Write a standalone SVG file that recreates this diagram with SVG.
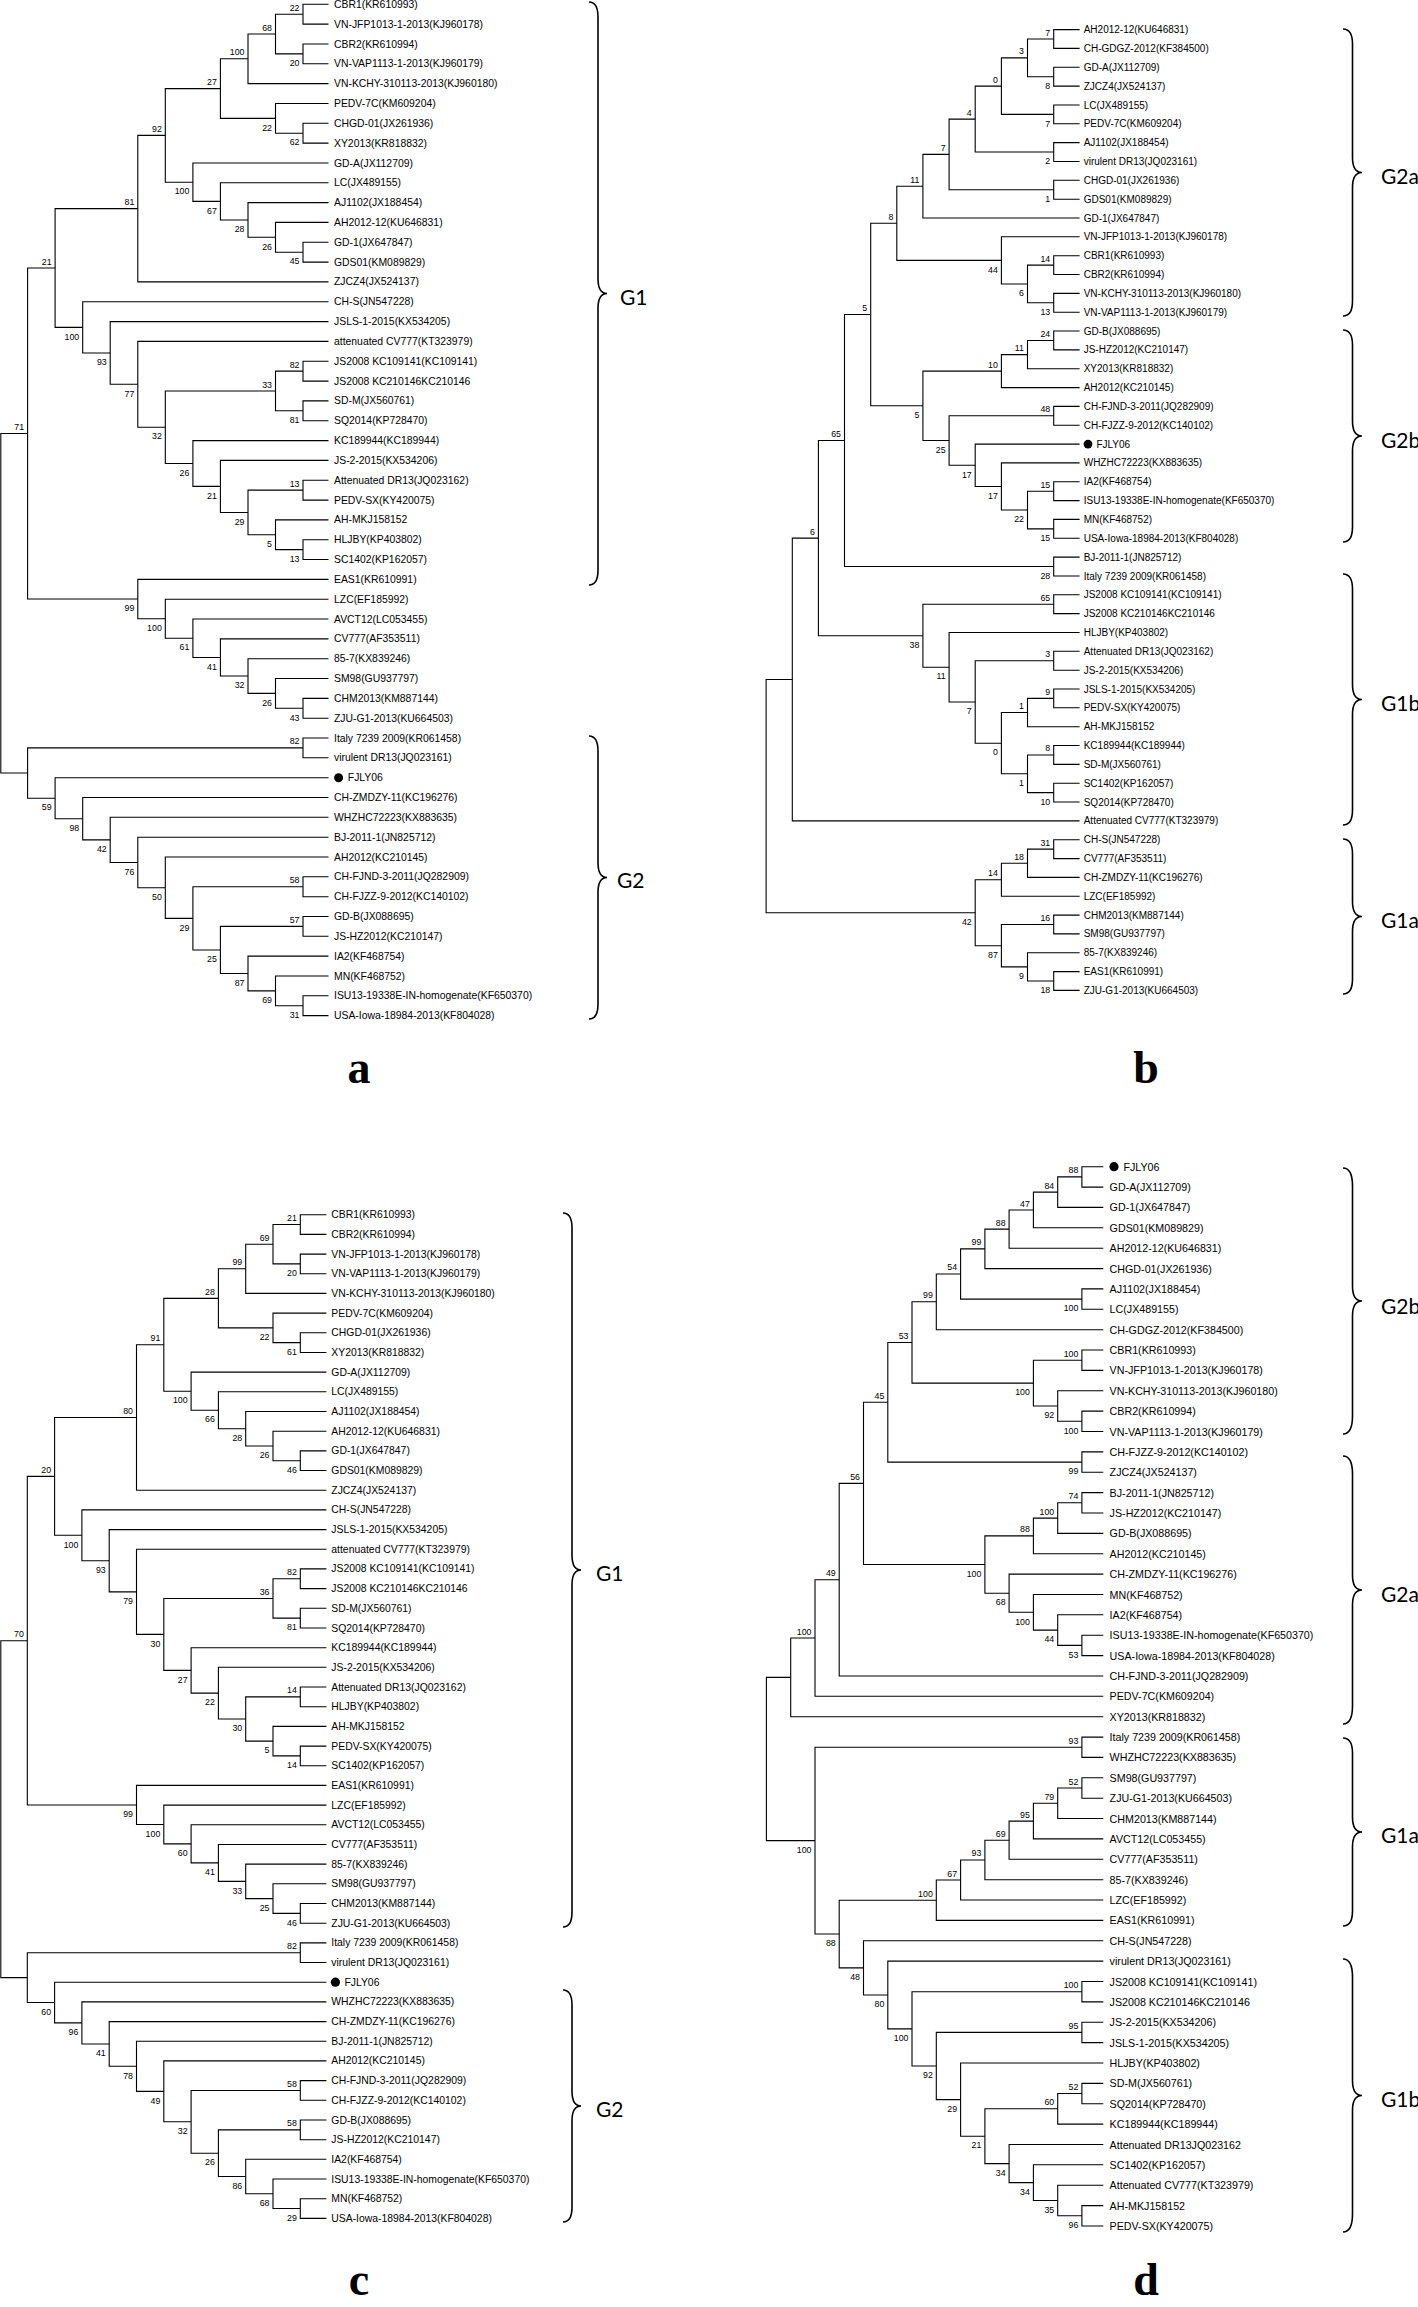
<svg xmlns="http://www.w3.org/2000/svg" width="1418" height="2307" viewBox="0 0 1418 2307">
<style>
text{font-family:"Liberation Sans",Arial,sans-serif;fill:#000}
.tip text{dominant-baseline:central}
.ta text{font-size:10.4px}
.tb text{font-size:10px}
.td text{font-size:10.7px}
.bs text{font-size:8.8px;text-anchor:end}
.e path{fill:none;stroke:#000;stroke-width:1.1}
.br path{fill:none;stroke:#000;stroke-width:1.6}
.gl text{font-family:Lato,"Liberation Sans",sans-serif;font-size:21px;dominant-baseline:central}
.lt text{font-family:"Liberation Serif","Times New Roman",serif;font-weight:bold;font-size:46px;text-anchor:middle}
</style>
<rect width="1418" height="2307" fill="#fff"/>

<!-- ================= PANEL A ================= -->
<g id="a-connectors" class="e">
<path d="M328.5 4.3H303V24.1H328.5"/>
<path d="M328.5 44H303V63.8H328.5"/>
<path d="M303 14.2H275.5V53.9H303"/>
<path d="M275.5 34.05H248V83.6H328.5"/>
<path d="M328.5 123.3H303V143.1H328.5"/>
<path d="M328.5 103.5H275.5V133.2H303"/>
<path d="M248 58.8H220.4V118.35H275.5"/>
<path d="M328.5 242.3H303V262.1H328.5"/>
<path d="M328.5 222.4H275.5V252.2H303"/>
<path d="M328.5 202.6H248V237.3H275.5"/>
<path d="M328.5 182.8H220.4V219.95H248"/>
<path d="M328.5 163H192.9V201.4H220.4"/>
<path d="M220.4 88.6H165.3V182.2H192.9"/>
<path d="M165.3 135.4H137.8V281.9H328.5"/>
<path d="M328.5 361.2H303V381.1H328.5"/>
<path d="M328.5 400.9H303V420.7H328.5"/>
<path d="M303 371.15H275.5V410.8H303"/>
<path d="M328.5 539.7H303V559.5H328.5"/>
<path d="M328.5 519.9H275.5V549.6H303"/>
<path d="M328.5 480.2H303V500.1H328.5"/>
<path d="M303 490.15H248V534.75H275.5"/>
<path d="M328.5 460.4H220.4V512.45H248"/>
<path d="M328.5 440.6H192.9V486.4H220.4"/>
<path d="M275.5 390.98H165.3V463.5H192.9"/>
<path d="M328.5 341.4H137.8V427.2H165.3"/>
<path d="M328.5 321.6H110.2V384.3H137.8"/>
<path d="M328.5 301.8H82.7V352.95H110.2"/>
<path d="M137.8 208.65H55.1V327.4H82.7"/>
<path d="M328.5 698.4H303V718.2H328.5"/>
<path d="M328.5 678.5H275.5V708.3H303"/>
<path d="M328.5 658.7H248V693.4H275.5"/>
<path d="M328.5 638.9H220.4V676.05H248"/>
<path d="M328.5 619H192.9V657.5H220.4"/>
<path d="M328.5 599.2H165.3V638.25H192.9"/>
<path d="M328.5 579.4H137.8V618.7H165.3"/>
<path d="M55.1 268H27.6V599.05H137.8"/>
<path d="M328.5 738H303V757.8H328.5"/>
<path d="M328.5 995.8H303V1015.6H328.5"/>
<path d="M328.5 976H275.5V1005.7H303"/>
<path d="M328.5 956.1H248V990.85H275.5"/>
<path d="M328.5 916.5H303V936.3H328.5"/>
<path d="M303 926.4H220.4V973.5H248"/>
<path d="M328.5 876.8H303V896.7H328.5"/>
<path d="M303 886.75H192.9V949.95H220.4"/>
<path d="M328.5 857H165.3V918.35H192.9"/>
<path d="M328.5 837.2H137.8V887.7H165.3"/>
<path d="M328.5 817.3H110.2V862.45H137.8"/>
<path d="M328.5 797.5H82.7V839.9H110.2"/>
<path d="M328.5 777.7H55.1V818.7H82.7"/>
<path d="M303 747.9H27.6V798.2H55.1"/>
<path d="M27.6 433.5H0.8V773.05H27.6"/>
</g>
<g id="a-bootstrap" class="bs">
<text x="299.5" y="10.7">22</text><text x="299.5" y="66.1">20</text><text x="272" y="30.55">68</text><text x="244.5" y="55.3">100</text>
<text x="299.5" y="145.4">62</text><text x="272" y="130.55">22</text><text x="216.9" y="85.1">27</text><text x="299.5" y="264.4">45</text>
<text x="272" y="249.5">26</text><text x="244.5" y="232.15">28</text><text x="216.9" y="213.6">67</text><text x="189.4" y="194.4">100</text>
<text x="161.8" y="131.9">92</text><text x="134.3" y="205.15">81</text><text x="299.5" y="367.65">82</text><text x="299.5" y="423">81</text>
<text x="272" y="387.5">33</text><text x="299.5" y="561.8">13</text><text x="272" y="546.95">5</text><text x="299.5" y="486.65">13</text>
<text x="244.5" y="524.65">29</text><text x="216.9" y="498.6">21</text><text x="189.4" y="475.7">26</text><text x="161.8" y="439.4">32</text>
<text x="134.3" y="396.5">77</text><text x="106.7" y="365.15">93</text><text x="79.2" y="339.6">100</text><text x="51.6" y="264.5">21</text>
<text x="299.5" y="720.5">43</text><text x="272" y="705.6">26</text><text x="244.5" y="688.25">32</text><text x="216.9" y="669.7">41</text>
<text x="189.4" y="650.45">61</text><text x="161.8" y="630.9">100</text><text x="134.3" y="611.25">99</text><text x="24.1" y="430">71</text>
<text x="299.5" y="744.4">82</text><text x="299.5" y="1017.9">31</text><text x="272" y="1003.05">69</text><text x="244.5" y="985.7">87</text>
<text x="299.5" y="922.9">57</text><text x="216.9" y="962.15">25</text><text x="299.5" y="883.25">58</text><text x="189.4" y="930.55">29</text>
<text x="161.8" y="899.9">50</text><text x="134.3" y="874.65">76</text><text x="106.7" y="852.1">42</text><text x="79.2" y="830.9">98</text>
<text x="51.6" y="810.4">59</text>
</g>
<g class="tip ta" transform="translate(334 0)">
<g id="a00"><text y="4.3">CBR1(KR610993)</text></g>
<g id="a01"><text y="24.1">VN-JFP1013-1-2013(KJ960178)</text></g>
<g id="a02"><text y="44">CBR2(KR610994)</text></g>
<g id="a03"><text y="63.8">VN-VAP1113-1-2013(KJ960179)</text></g>
<g id="a04"><text y="83.6">VN-KCHY-310113-2013(KJ960180)</text></g>
<g id="a05"><text y="103.5">PEDV-7C(KM609204)</text></g>
<g id="a06"><text y="123.3">CHGD-01(JX261936)</text></g>
<g id="a07"><text y="143.1">XY2013(KR818832)</text></g>
<g id="a08"><text y="163">GD-A(JX112709)</text></g>
<g id="a09"><text y="182.8">LC(JX489155)</text></g>
<g id="a10"><text y="202.6">AJ1102(JX188454)</text></g>
<g id="a11"><text y="222.4">AH2012-12(KU646831)</text></g>
<g id="a12"><text y="242.3">GD-1(JX647847)</text></g>
<g id="a13"><text y="262.1">GDS01(KM089829)</text></g>
<g id="a14"><text y="281.9">ZJCZ4(JX524137)</text></g>
<g id="a15"><text y="301.8">CH-S(JN547228)</text></g>
<g id="a16"><text y="321.6">JSLS-1-2015(KX534205)</text></g>
<g id="a17"><text y="341.4">attenuated CV777(KT323979)</text></g>
<g id="a18"><text y="361.2">JS2008 KC109141(KC109141)</text></g>
<g id="a19"><text y="381.1">JS2008 KC210146KC210146</text></g>
<g id="a20"><text y="400.9">SD-M(JX560761)</text></g>
<g id="a21"><text y="420.7">SQ2014(KP728470)</text></g>
<g id="a22"><text y="440.6">KC189944(KC189944)</text></g>
<g id="a23"><text y="460.4">JS-2-2015(KX534206)</text></g>
<g id="a24"><text y="480.2">Attenuated DR13(JQ023162)</text></g>
<g id="a25"><text y="500.1">PEDV-SX(KY420075)</text></g>
<g id="a26"><text y="519.9">AH-MKJ158152</text></g>
<g id="a27"><text y="539.7">HLJBY(KP403802)</text></g>
<g id="a28"><text y="559.5">SC1402(KP162057)</text></g>
<g id="a29"><text y="579.4">EAS1(KR610991)</text></g>
<g id="a30"><text y="599.2">LZC(EF185992)</text></g>
<g id="a31"><text y="619">AVCT12(LC053455)</text></g>
<g id="a32"><text y="638.9">CV777(AF353511)</text></g>
<g id="a33"><text y="658.7">85-7(KX839246)</text></g>
<g id="a34"><text y="678.5">SM98(GU937797)</text></g>
<g id="a35"><text y="698.4">CHM2013(KM887144)</text></g>
<g id="a36"><text y="718.2">ZJU-G1-2013(KU664503)</text></g>
<g id="a37"><text y="738">Italy 7239 2009(KR061458)</text></g>
<g id="a38"><text y="757.8">virulent DR13(JQ023161)</text></g>
<g id="a39"><circle cx="4.6" cy="777.7" r="4.5"/><text x="13.8" y="777.7">FJLY06</text></g>
<g id="a40"><text y="797.5">CH-ZMDZY-11(KC196276)</text></g>
<g id="a41"><text y="817.3">WHZHC72223(KX883635)</text></g>
<g id="a42"><text y="837.2">BJ-2011-1(JN825712)</text></g>
<g id="a43"><text y="857">AH2012(KC210145)</text></g>
<g id="a44"><text y="876.8">CH-FJND-3-2011(JQ282909)</text></g>
<g id="a45"><text y="896.7">CH-FJZZ-9-2012(KC140102)</text></g>
<g id="a46"><text y="916.5">GD-B(JX088695)</text></g>
<g id="a47"><text y="936.3">JS-HZ2012(KC210147)</text></g>
<g id="a48"><text y="956.1">IA2(KF468754)</text></g>
<g id="a49"><text y="976">MN(KF468752)</text></g>
<g id="a50"><text y="995.8">ISU13-19338E-IN-homogenate(KF650370)</text></g>
<g id="a51"><text y="1015.6">USA-Iowa-18984-2013(KF804028)</text></g>
</g>

<!-- ================= PANEL B ================= -->
<g id="b-connectors" class="e">
<path d="M1079.6 29.6H1053.7V48.4H1079.6"/>
<path d="M1079.6 67.3H1053.7V86.1H1079.6"/>
<path d="M1053.7 39H1027.5V76.7H1053.7"/>
<path d="M1079.6 105H1053.7V123.8H1079.6"/>
<path d="M1027.5 57.85H1001.4V114.4H1053.7"/>
<path d="M1079.6 142.6H1053.7V161.5H1079.6"/>
<path d="M1001.4 86.1H975.2V152.05H1053.7"/>
<path d="M1079.6 180.3H1053.7V199.2H1079.6"/>
<path d="M975.2 119.1H949.1V189.75H1053.7"/>
<path d="M949.1 154.4H922.9V218H1079.6"/>
<path d="M1079.6 255.7H1053.7V274.5H1079.6"/>
<path d="M1079.6 293.4H1053.7V312.2H1079.6"/>
<path d="M1053.7 265.1H1027.5V302.8H1053.7"/>
<path d="M1079.6 236.8H1001.4V283.95H1027.5"/>
<path d="M922.9 186.2H896.8V260.4H1001.4"/>
<path d="M1079.6 331H1053.7V349.9H1079.6"/>
<path d="M1053.7 340.45H1027.5V368.7H1079.6"/>
<path d="M1027.5 354.6H1001.4V387.6H1079.6"/>
<path d="M1079.6 406.4H1053.7V425.2H1079.6"/>
<path d="M1079.6 481.8H1053.7V500.6H1079.6"/>
<path d="M1079.6 519.4H1053.7V538.3H1079.6"/>
<path d="M1053.7 491.2H1027.5V528.85H1053.7"/>
<path d="M1079.6 462.9H1001.4V510H1027.5"/>
<path d="M1079.6 444.1H975.2V486.45H1001.4"/>
<path d="M1053.7 415.8H949.1V465.3H975.2"/>
<path d="M1001.4 371.1H922.9V440.55H949.1"/>
<path d="M896.8 223.3H870.7V405.8H922.9"/>
<path d="M1079.6 557.1H1053.7V576H1079.6"/>
<path d="M870.7 314.55H844.5V566.55H1053.7"/>
<path d="M1079.6 594.8H1053.7V613.6H1079.6"/>
<path d="M1079.6 651.3H1053.7V670.2H1079.6"/>
<path d="M1079.6 689H1053.7V707.8H1079.6"/>
<path d="M1053.7 698.4H1027.5V726.7H1079.6"/>
<path d="M1079.6 745.5H1053.7V764.4H1079.6"/>
<path d="M1079.6 783.2H1053.7V802H1079.6"/>
<path d="M1053.7 754.95H1027.5V792.6H1053.7"/>
<path d="M1027.5 712.55H1001.4V773.8H1027.5"/>
<path d="M1053.7 660.75H975.2V743.2H1001.4"/>
<path d="M1079.6 632.5H949.1V701.95H975.2"/>
<path d="M1053.7 604.2H922.9V667.2H949.1"/>
<path d="M844.5 440.55H818.4V635.7H922.9"/>
<path d="M818.4 538.1H792.3V820.9H1079.6"/>
<path d="M1079.6 839.7H1053.7V858.6H1079.6"/>
<path d="M1053.7 849.15H1027.5V877.4H1079.6"/>
<path d="M1027.5 863.3H1001.4V896.2H1079.6"/>
<path d="M1079.6 915.1H1053.7V933.9H1079.6"/>
<path d="M1079.6 971.6H1053.7V990.4H1079.6"/>
<path d="M1079.6 952.8H1027.5V981H1053.7"/>
<path d="M1053.7 924.5H1001.4V966.9H1027.5"/>
<path d="M1001.4 879.75H975.2V945.7H1001.4"/>
<path d="M792.3 679.5H766.1V912.7H975.2"/>
</g>
<g id="b-bootstrap" class="bs">
<text x="1050.2" y="35.5">7</text><text x="1050.2" y="88.9">8</text><text x="1024" y="54.35">3</text><text x="1050.2" y="126.6">7</text>
<text x="997.9" y="82.6">0</text><text x="1050.2" y="164.25">2</text><text x="971.7" y="115.6">4</text><text x="1050.2" y="201.95">1</text>
<text x="945.6" y="150.9">7</text><text x="919.4" y="182.7">11</text><text x="1050.2" y="261.6">14</text><text x="1050.2" y="315">13</text>
<text x="1024" y="296.15">6</text><text x="997.9" y="272.6">44</text><text x="893.3" y="219.8">8</text><text x="1050.2" y="336.95">24</text>
<text x="1024" y="351.1">11</text><text x="997.9" y="367.6">10</text><text x="1050.2" y="412.3">48</text><text x="1050.2" y="487.7">15</text>
<text x="1050.2" y="541.05">15</text><text x="1024" y="522.2">22</text><text x="997.9" y="498.65">17</text><text x="971.7" y="477.5">17</text>
<text x="945.6" y="452.75">25</text><text x="919.4" y="418">5</text><text x="867.2" y="311.05">5</text><text x="1050.2" y="578.75">28</text>
<text x="841" y="437.05">65</text><text x="1050.2" y="600.7">65</text><text x="1050.2" y="657.25">3</text><text x="1050.2" y="694.9">9</text>
<text x="1024" y="709.05">1</text><text x="1050.2" y="751.45">8</text><text x="1050.2" y="804.8">10</text><text x="1024" y="786">1</text>
<text x="997.9" y="755.4">0</text><text x="971.7" y="714.15">7</text><text x="945.6" y="679.4">11</text><text x="919.4" y="647.9">38</text>
<text x="814.9" y="534.6">6</text><text x="1050.2" y="845.65">31</text><text x="1024" y="859.8">18</text><text x="997.9" y="876.25">14</text>
<text x="1050.2" y="921">16</text><text x="1050.2" y="993.2">18</text><text x="1024" y="979.1">9</text><text x="997.9" y="957.9">87</text>
<text x="971.7" y="924.9">42</text>
</g>
<g class="tip tb" transform="translate(1083.7 0)">
<g id="b00"><text y="29.6">AH2012-12(KU646831)</text></g>
<g id="b01"><text y="48.4">CH-GDGZ-2012(KF384500)</text></g>
<g id="b02"><text y="67.3">GD-A(JX112709)</text></g>
<g id="b03"><text y="86.1">ZJCZ4(JX524137)</text></g>
<g id="b04"><text y="105">LC(JX489155)</text></g>
<g id="b05"><text y="123.8">PEDV-7C(KM609204)</text></g>
<g id="b06"><text y="142.6">AJ1102(JX188454)</text></g>
<g id="b07"><text y="161.5">virulent DR13(JQ023161)</text></g>
<g id="b08"><text y="180.3">CHGD-01(JX261936)</text></g>
<g id="b09"><text y="199.2">GDS01(KM089829)</text></g>
<g id="b10"><text y="218">GD-1(JX647847)</text></g>
<g id="b11"><text y="236.8">VN-JFP1013-1-2013(KJ960178)</text></g>
<g id="b12"><text y="255.7">CBR1(KR610993)</text></g>
<g id="b13"><text y="274.5">CBR2(KR610994)</text></g>
<g id="b14"><text y="293.4">VN-KCHY-310113-2013(KJ960180)</text></g>
<g id="b15"><text y="312.2">VN-VAP1113-1-2013(KJ960179)</text></g>
<g id="b16"><text y="331">GD-B(JX088695)</text></g>
<g id="b17"><text y="349.9">JS-HZ2012(KC210147)</text></g>
<g id="b18"><text y="368.7">XY2013(KR818832)</text></g>
<g id="b19"><text y="387.6">AH2012(KC210145)</text></g>
<g id="b20"><text y="406.4">CH-FJND-3-2011(JQ282909)</text></g>
<g id="b21"><text y="425.2">CH-FJZZ-9-2012(KC140102)</text></g>
<g id="b22"><circle cx="4.3" cy="444.1" r="4.4"/><text x="12.7" y="444.1">FJLY06</text></g>
<g id="b23"><text y="462.9">WHZHC72223(KX883635)</text></g>
<g id="b24"><text y="481.8">IA2(KF468754)</text></g>
<g id="b25"><text y="500.6">ISU13-19338E-IN-homogenate(KF650370)</text></g>
<g id="b26"><text y="519.4">MN(KF468752)</text></g>
<g id="b27"><text y="538.3">USA-Iowa-18984-2013(KF804028)</text></g>
<g id="b28"><text y="557.1">BJ-2011-1(JN825712)</text></g>
<g id="b29"><text y="576">Italy 7239 2009(KR061458)</text></g>
<g id="b30"><text y="594.8">JS2008 KC109141(KC109141)</text></g>
<g id="b31"><text y="613.6">JS2008 KC210146KC210146</text></g>
<g id="b32"><text y="632.5">HLJBY(KP403802)</text></g>
<g id="b33"><text y="651.3">Attenuated DR13(JQ023162)</text></g>
<g id="b34"><text y="670.2">JS-2-2015(KX534206)</text></g>
<g id="b35"><text y="689">JSLS-1-2015(KX534205)</text></g>
<g id="b36"><text y="707.8">PEDV-SX(KY420075)</text></g>
<g id="b37"><text y="726.7">AH-MKJ158152</text></g>
<g id="b38"><text y="745.5">KC189944(KC189944)</text></g>
<g id="b39"><text y="764.4">SD-M(JX560761)</text></g>
<g id="b40"><text y="783.2">SC1402(KP162057)</text></g>
<g id="b41"><text y="802">SQ2014(KP728470)</text></g>
<g id="b42"><text y="820.9">Attenuated CV777(KT323979)</text></g>
<g id="b43"><text y="839.7">CH-S(JN547228)</text></g>
<g id="b44"><text y="858.6">CV777(AF353511)</text></g>
<g id="b45"><text y="877.4">CH-ZMDZY-11(KC196276)</text></g>
<g id="b46"><text y="896.2">LZC(EF185992)</text></g>
<g id="b47"><text y="915.1">CHM2013(KM887144)</text></g>
<g id="b48"><text y="933.9">SM98(GU937797)</text></g>
<g id="b49"><text y="952.8">85-7(KX839246)</text></g>
<g id="b50"><text y="971.6">EAS1(KR610991)</text></g>
<g id="b51"><text y="990.4">ZJU-G1-2013(KU664503)</text></g>
</g>

<!-- ================= PANEL C ================= -->
<g id="c-connectors" class="e">
<path d="M326.4 1214.7H300.3V1234.4H326.4"/>
<path d="M326.4 1254.1H300.3V1273.7H326.4"/>
<path d="M300.3 1224.55H273V1263.9H300.3"/>
<path d="M273 1244.2H245.7V1293.4H326.4"/>
<path d="M326.4 1332.8H300.3V1352.5H326.4"/>
<path d="M326.4 1313.1H273V1342.65H300.3"/>
<path d="M245.7 1268.8H218.4V1327.9H273"/>
<path d="M326.4 1450.9H300.3V1470.5H326.4"/>
<path d="M326.4 1431.2H273V1460.7H300.3"/>
<path d="M326.4 1411.5H245.7V1445.95H273"/>
<path d="M326.4 1391.8H218.4V1428.7H245.7"/>
<path d="M326.4 1372.1H191.1V1410.25H218.4"/>
<path d="M218.4 1298.35H163.8V1391.2H191.1"/>
<path d="M163.8 1344.8H136.5V1490.2H326.4"/>
<path d="M326.4 1568.9H300.3V1588.6H326.4"/>
<path d="M326.4 1608.3H300.3V1628H326.4"/>
<path d="M300.3 1578.75H273V1618.15H300.3"/>
<path d="M326.4 1687H300.3V1706.7H326.4"/>
<path d="M326.4 1746.1H300.3V1765.7H326.4"/>
<path d="M326.4 1726.4H273V1755.9H300.3"/>
<path d="M300.3 1696.85H245.7V1741.15H273"/>
<path d="M326.4 1667.3H218.4V1719H245.7"/>
<path d="M326.4 1647.7H191.1V1693.15H218.4"/>
<path d="M273 1598.45H163.8V1670.4H191.1"/>
<path d="M326.4 1549.3H136.5V1634.4H163.8"/>
<path d="M326.4 1529.6H109.2V1591.85H136.5"/>
<path d="M326.4 1509.9H81.9V1560.7H109.2"/>
<path d="M136.5 1417.5H54.6V1535.3H81.9"/>
<path d="M326.4 1903.5H300.3V1923.2H326.4"/>
<path d="M326.4 1883.8H273V1913.35H300.3"/>
<path d="M326.4 1864.1H245.7V1898.6H273"/>
<path d="M326.4 1844.5H218.4V1881.35H245.7"/>
<path d="M326.4 1824.8H191.1V1862.9H218.4"/>
<path d="M326.4 1805.1H163.8V1843.85H191.1"/>
<path d="M326.4 1785.4H136.5V1824.5H163.8"/>
<path d="M54.6 1476.4H27.3V1804.95H136.5"/>
<path d="M326.4 1942.9H300.3V1962.5H326.4"/>
<path d="M326.4 2198.7H300.3V2218.4H326.4"/>
<path d="M326.4 2179H273V2208.55H300.3"/>
<path d="M326.4 2159.3H245.7V2193.8H273"/>
<path d="M326.4 2120H300.3V2139.7H326.4"/>
<path d="M300.3 2129.85H218.4V2176.55H245.7"/>
<path d="M326.4 2080.6H300.3V2100.3H326.4"/>
<path d="M300.3 2090.45H191.1V2153.2H218.4"/>
<path d="M326.4 2060.9H163.8V2121.8H191.1"/>
<path d="M326.4 2041.3H136.5V2091.35H163.8"/>
<path d="M326.4 2021.6H109.2V2066.3H136.5"/>
<path d="M326.4 2001.9H81.9V2043.95H109.2"/>
<path d="M326.4 1982.2H54.6V2022.9H81.9"/>
<path d="M300.3 1952.7H27.3V2002.55H54.6"/>
<path d="M27.3 1640.7H0.8V1977.6H27.3"/>
</g>
<g id="c-bootstrap" class="bs">
<text x="296.8" y="1221.05">21</text><text x="296.8" y="1276.1">20</text><text x="269.5" y="1240.7">69</text><text x="242.2" y="1265.3">99</text>
<text x="296.8" y="1354.85">61</text><text x="269.5" y="1340.1">22</text><text x="214.9" y="1294.85">28</text><text x="296.8" y="1472.9">46</text>
<text x="269.5" y="1458.15">26</text><text x="242.2" y="1440.9">28</text><text x="214.9" y="1422.45">66</text><text x="187.6" y="1403.4">100</text>
<text x="160.3" y="1341.3">91</text><text x="133" y="1414">80</text><text x="296.8" y="1575.25">82</text><text x="296.8" y="1630.35">81</text>
<text x="269.5" y="1594.95">36</text><text x="296.8" y="1693.35">14</text><text x="296.8" y="1768.1">14</text><text x="269.5" y="1753.35">5</text>
<text x="242.2" y="1731.2">30</text><text x="214.9" y="1705.35">22</text><text x="187.6" y="1682.6">27</text><text x="160.3" y="1646.6">30</text>
<text x="133" y="1604.05">79</text><text x="105.7" y="1572.9">93</text><text x="78.4" y="1547.5">100</text><text x="51.1" y="1472.9">20</text>
<text x="296.8" y="1925.55">46</text><text x="269.5" y="1910.8">25</text><text x="242.2" y="1893.55">33</text><text x="214.9" y="1875.1">41</text>
<text x="187.6" y="1856.05">60</text><text x="160.3" y="1836.7">100</text><text x="133" y="1817.15">99</text><text x="23.8" y="1637.2">70</text>
<text x="296.8" y="1949.2">82</text><text x="296.8" y="2220.75">29</text><text x="269.5" y="2206">68</text><text x="242.2" y="2188.75">86</text>
<text x="296.8" y="2126.35">58</text><text x="214.9" y="2165.4">26</text><text x="296.8" y="2086.95">58</text><text x="187.6" y="2134">32</text>
<text x="160.3" y="2103.55">49</text><text x="133" y="2078.5">78</text><text x="105.7" y="2056.15">41</text><text x="78.4" y="2035.1">96</text>
<text x="51.1" y="2014.75">60</text>
</g>
<g class="tip ta" transform="translate(331.3 0)">
<g id="c00"><text y="1214.7">CBR1(KR610993)</text></g>
<g id="c01"><text y="1234.4">CBR2(KR610994)</text></g>
<g id="c02"><text y="1254.1">VN-JFP1013-1-2013(KJ960178)</text></g>
<g id="c03"><text y="1273.7">VN-VAP1113-1-2013(KJ960179)</text></g>
<g id="c04"><text y="1293.4">VN-KCHY-310113-2013(KJ960180)</text></g>
<g id="c05"><text y="1313.1">PEDV-7C(KM609204)</text></g>
<g id="c06"><text y="1332.8">CHGD-01(JX261936)</text></g>
<g id="c07"><text y="1352.5">XY2013(KR818832)</text></g>
<g id="c08"><text y="1372.1">GD-A(JX112709)</text></g>
<g id="c09"><text y="1391.8">LC(JX489155)</text></g>
<g id="c10"><text y="1411.5">AJ1102(JX188454)</text></g>
<g id="c11"><text y="1431.2">AH2012-12(KU646831)</text></g>
<g id="c12"><text y="1450.9">GD-1(JX647847)</text></g>
<g id="c13"><text y="1470.5">GDS01(KM089829)</text></g>
<g id="c14"><text y="1490.2">ZJCZ4(JX524137)</text></g>
<g id="c15"><text y="1509.9">CH-S(JN547228)</text></g>
<g id="c16"><text y="1529.6">JSLS-1-2015(KX534205)</text></g>
<g id="c17"><text y="1549.3">attenuated CV777(KT323979)</text></g>
<g id="c18"><text y="1568.9">JS2008 KC109141(KC109141)</text></g>
<g id="c19"><text y="1588.6">JS2008 KC210146KC210146</text></g>
<g id="c20"><text y="1608.3">SD-M(JX560761)</text></g>
<g id="c21"><text y="1628">SQ2014(KP728470)</text></g>
<g id="c22"><text y="1647.7">KC189944(KC189944)</text></g>
<g id="c23"><text y="1667.3">JS-2-2015(KX534206)</text></g>
<g id="c24"><text y="1687">Attenuated DR13(JQ023162)</text></g>
<g id="c25"><text y="1706.7">HLJBY(KP403802)</text></g>
<g id="c26"><text y="1726.4">AH-MKJ158152</text></g>
<g id="c27"><text y="1746.1">PEDV-SX(KY420075)</text></g>
<g id="c28"><text y="1765.7">SC1402(KP162057)</text></g>
<g id="c29"><text y="1785.4">EAS1(KR610991)</text></g>
<g id="c30"><text y="1805.1">LZC(EF185992)</text></g>
<g id="c31"><text y="1824.8">AVCT12(LC053455)</text></g>
<g id="c32"><text y="1844.5">CV777(AF353511)</text></g>
<g id="c33"><text y="1864.1">85-7(KX839246)</text></g>
<g id="c34"><text y="1883.8">SM98(GU937797)</text></g>
<g id="c35"><text y="1903.5">CHM2013(KM887144)</text></g>
<g id="c36"><text y="1923.2">ZJU-G1-2013(KU664503)</text></g>
<g id="c37"><text y="1942.9">Italy 7239 2009(KR061458)</text></g>
<g id="c38"><text y="1962.5">virulent DR13(JQ023161)</text></g>
<g id="c39"><circle cx="4.1" cy="1982.2" r="4.6"/><text x="13.1" y="1982.2">FJLY06</text></g>
<g id="c40"><text y="2001.9">WHZHC72223(KX883635)</text></g>
<g id="c41"><text y="2021.6">CH-ZMDZY-11(KC196276)</text></g>
<g id="c42"><text y="2041.3">BJ-2011-1(JN825712)</text></g>
<g id="c43"><text y="2060.9">AH2012(KC210145)</text></g>
<g id="c44"><text y="2080.6">CH-FJND-3-2011(JQ282909)</text></g>
<g id="c45"><text y="2100.3">CH-FJZZ-9-2012(KC140102)</text></g>
<g id="c46"><text y="2120">GD-B(JX088695)</text></g>
<g id="c47"><text y="2139.7">JS-HZ2012(KC210147)</text></g>
<g id="c48"><text y="2159.3">IA2(KF468754)</text></g>
<g id="c49"><text y="2179">ISU13-19338E-IN-homogenate(KF650370)</text></g>
<g id="c50"><text y="2198.7">MN(KF468752)</text></g>
<g id="c51"><text y="2218.4">USA-Iowa-18984-2013(KF804028)</text></g>
</g>

<!-- ================= PANEL D ================= -->
<g id="d-connectors" class="e">
<path d="M1103.3 1166.7H1081.9V1187.1H1103.3"/>
<path d="M1081.9 1176.9H1057.7V1207.4H1103.3"/>
<path d="M1057.7 1192.15H1033.4V1227.8H1103.3"/>
<path d="M1033.4 1210H1009.1V1248.2H1103.3"/>
<path d="M1009.1 1229.1H984.9V1268.6H1103.3"/>
<path d="M1103.3 1288.9H1081.9V1309.3H1103.3"/>
<path d="M984.9 1248.85H960.6V1299.1H1081.9"/>
<path d="M960.6 1273.95H936.3V1329.7H1103.3"/>
<path d="M1103.3 1350H1081.9V1370.4H1103.3"/>
<path d="M1103.3 1411.1H1081.9V1431.5H1103.3"/>
<path d="M1103.3 1390.8H1057.7V1421.3H1081.9"/>
<path d="M1081.9 1360.2H1033.4V1406.05H1057.7"/>
<path d="M936.3 1301.8H912V1383.1H1033.4"/>
<path d="M1103.3 1451.9H1081.9V1472.3H1103.3"/>
<path d="M912 1342.45H887.8V1462.1H1081.9"/>
<path d="M1103.3 1492.6H1081.9V1513H1103.3"/>
<path d="M1081.9 1502.8H1057.7V1533.4H1103.3"/>
<path d="M1057.7 1518.1H1033.4V1553.7H1103.3"/>
<path d="M1103.3 1635.2H1081.9V1655.6H1103.3"/>
<path d="M1103.3 1614.8H1057.7V1645.4H1081.9"/>
<path d="M1103.3 1594.5H1033.4V1630.1H1057.7"/>
<path d="M1103.3 1574.1H1009.1V1612.3H1033.4"/>
<path d="M1033.4 1535.9H984.9V1593.2H1009.1"/>
<path d="M887.8 1402.3H863.5V1564.55H984.9"/>
<path d="M863.5 1483.4H839.2V1676H1103.3"/>
<path d="M839.2 1579.7H815V1696.3H1103.3"/>
<path d="M815 1638H790.7V1716.7H1103.3"/>
<path d="M1103.3 1737.1H1081.9V1757.4H1103.3"/>
<path d="M1103.3 1777.8H1081.9V1798.2H1103.3"/>
<path d="M1081.9 1788H1057.7V1818.5H1103.3"/>
<path d="M1057.7 1803.25H1033.4V1838.9H1103.3"/>
<path d="M1033.4 1821.1H1009.1V1859.3H1103.3"/>
<path d="M1009.1 1840.2H984.9V1879.7H1103.3"/>
<path d="M984.9 1859.95H960.6V1900H1103.3"/>
<path d="M960.6 1880H936.3V1920.4H1103.3"/>
<path d="M1103.3 2083.4H1081.9V2103.7H1103.3"/>
<path d="M1081.9 2093.55H1057.7V2124.1H1103.3"/>
<path d="M1103.3 2205.6H1081.9V2226H1103.3"/>
<path d="M1103.3 2185.2H1057.7V2215.8H1081.9"/>
<path d="M1103.3 2164.8H1033.4V2200.5H1057.7"/>
<path d="M1103.3 2144.5H1009.1V2182.65H1033.4"/>
<path d="M1057.7 2108.8H984.9V2163.6H1009.1"/>
<path d="M1103.3 2063H960.6V2136.2H984.9"/>
<path d="M1103.3 2022.2H1081.9V2042.6H1103.3"/>
<path d="M1081.9 2032.4H936.3V2099.6H960.6"/>
<path d="M1103.3 1981.5H1081.9V2001.9H1103.3"/>
<path d="M1081.9 1991.7H912V2066H936.3"/>
<path d="M1103.3 1961.1H887.8V2028.85H912"/>
<path d="M1103.3 1940.8H863.5V1994.95H887.8"/>
<path d="M936.3 1900.2H839.2V1967.9H863.5"/>
<path d="M1081.9 1747.25H815V1934.05H839.2"/>
<path d="M790.7 1677.35H766.4V1840.65H815"/>
</g>
<g id="d-bootstrap" class="bs">
<text x="1078.4" y="1173.4">88</text><text x="1054.2" y="1188.65">84</text><text x="1029.9" y="1206.5">47</text><text x="1005.6" y="1225.6">88</text>
<text x="981.4" y="1245.35">99</text><text x="1078.4" y="1311.3">100</text><text x="957.1" y="1270.45">54</text><text x="932.8" y="1298.3">99</text>
<text x="1078.4" y="1356.7">100</text><text x="1078.4" y="1433.5">100</text><text x="1054.2" y="1418.25">92</text><text x="1029.9" y="1395.3">100</text>
<text x="908.5" y="1338.95">53</text><text x="1078.4" y="1474.3">99</text><text x="884.3" y="1398.8">45</text><text x="1078.4" y="1499.3">74</text>
<text x="1054.2" y="1514.6">100</text><text x="1029.9" y="1532.4">88</text><text x="1078.4" y="1657.6">53</text><text x="1054.2" y="1642.3">44</text>
<text x="1029.9" y="1624.5">100</text><text x="1005.6" y="1605.4">68</text><text x="981.4" y="1576.75">100</text><text x="860" y="1479.9">56</text>
<text x="835.7" y="1576.2">49</text><text x="811.5" y="1634.5">100</text><text x="1078.4" y="1743.75">93</text><text x="1078.4" y="1784.5">52</text>
<text x="1054.2" y="1799.75">79</text><text x="1029.9" y="1817.6">95</text><text x="1005.6" y="1836.7">69</text><text x="981.4" y="1856.45">93</text>
<text x="957.1" y="1876.5">67</text><text x="932.8" y="1896.7">100</text><text x="1078.4" y="2090.05">52</text><text x="1054.2" y="2105.3">60</text>
<text x="1078.4" y="2228">96</text><text x="1054.2" y="2212.7">35</text><text x="1029.9" y="2194.85">34</text><text x="1005.6" y="2175.8">34</text>
<text x="981.4" y="2148.4">21</text><text x="957.1" y="2111.8">29</text><text x="1078.4" y="2028.9">95</text><text x="932.8" y="2078.2">92</text>
<text x="1078.4" y="1988.2">100</text><text x="908.5" y="2041.05">100</text><text x="884.3" y="2007.15">80</text><text x="860" y="1980.1">48</text>
<text x="835.7" y="1946.25">88</text><text x="811.5" y="1852.85">100</text>
</g>
<g class="tip td" transform="translate(1109.6 0)">
<g id="d00"><circle cx="4.4" cy="1166.7" r="4.6"/><text x="13.8" y="1166.7">FJLY06</text></g>
<g id="d01"><text y="1187.1">GD-A(JX112709)</text></g>
<g id="d02"><text y="1207.4">GD-1(JX647847)</text></g>
<g id="d03"><text y="1227.8">GDS01(KM089829)</text></g>
<g id="d04"><text y="1248.2">AH2012-12(KU646831)</text></g>
<g id="d05"><text y="1268.6">CHGD-01(JX261936)</text></g>
<g id="d06"><text y="1288.9">AJ1102(JX188454)</text></g>
<g id="d07"><text y="1309.3">LC(JX489155)</text></g>
<g id="d08"><text y="1329.7">CH-GDGZ-2012(KF384500)</text></g>
<g id="d09"><text y="1350">CBR1(KR610993)</text></g>
<g id="d10"><text y="1370.4">VN-JFP1013-1-2013(KJ960178)</text></g>
<g id="d11"><text y="1390.8">VN-KCHY-310113-2013(KJ960180)</text></g>
<g id="d12"><text y="1411.1">CBR2(KR610994)</text></g>
<g id="d13"><text y="1431.5">VN-VAP1113-1-2013(KJ960179)</text></g>
<g id="d14"><text y="1451.9">CH-FJZZ-9-2012(KC140102)</text></g>
<g id="d15"><text y="1472.3">ZJCZ4(JX524137)</text></g>
<g id="d16"><text y="1492.6">BJ-2011-1(JN825712)</text></g>
<g id="d17"><text y="1513">JS-HZ2012(KC210147)</text></g>
<g id="d18"><text y="1533.4">GD-B(JX088695)</text></g>
<g id="d19"><text y="1553.7">AH2012(KC210145)</text></g>
<g id="d20"><text y="1574.1">CH-ZMDZY-11(KC196276)</text></g>
<g id="d21"><text y="1594.5">MN(KF468752)</text></g>
<g id="d22"><text y="1614.8">IA2(KF468754)</text></g>
<g id="d23"><text y="1635.2">ISU13-19338E-IN-homogenate(KF650370)</text></g>
<g id="d24"><text y="1655.6">USA-Iowa-18984-2013(KF804028)</text></g>
<g id="d25"><text y="1676">CH-FJND-3-2011(JQ282909)</text></g>
<g id="d26"><text y="1696.3">PEDV-7C(KM609204)</text></g>
<g id="d27"><text y="1716.7">XY2013(KR818832)</text></g>
<g id="d28"><text y="1737.1">Italy 7239 2009(KR061458)</text></g>
<g id="d29"><text y="1757.4">WHZHC72223(KX883635)</text></g>
<g id="d30"><text y="1777.8">SM98(GU937797)</text></g>
<g id="d31"><text y="1798.2">ZJU-G1-2013(KU664503)</text></g>
<g id="d32"><text y="1818.5">CHM2013(KM887144)</text></g>
<g id="d33"><text y="1838.9">AVCT12(LC053455)</text></g>
<g id="d34"><text y="1859.3">CV777(AF353511)</text></g>
<g id="d35"><text y="1879.7">85-7(KX839246)</text></g>
<g id="d36"><text y="1900">LZC(EF185992)</text></g>
<g id="d37"><text y="1920.4">EAS1(KR610991)</text></g>
<g id="d38"><text y="1940.8">CH-S(JN547228)</text></g>
<g id="d39"><text y="1961.1">virulent DR13(JQ023161)</text></g>
<g id="d40"><text y="1981.5">JS2008 KC109141(KC109141)</text></g>
<g id="d41"><text y="2001.9">JS2008 KC210146KC210146</text></g>
<g id="d42"><text y="2022.2">JS-2-2015(KX534206)</text></g>
<g id="d43"><text y="2042.6">JSLS-1-2015(KX534205)</text></g>
<g id="d44"><text y="2063">HLJBY(KP403802)</text></g>
<g id="d45"><text y="2083.4">SD-M(JX560761)</text></g>
<g id="d46"><text y="2103.7">SQ2014(KP728470)</text></g>
<g id="d47"><text y="2124.1">KC189944(KC189944)</text></g>
<g id="d48"><text y="2144.5">Attenuated DR13JQ023162</text></g>
<g id="d49"><text y="2164.8">SC1402(KP162057)</text></g>
<g id="d50"><text y="2185.2">Attenuated CV777(KT323979)</text></g>
<g id="d51"><text y="2205.6">AH-MKJ158152</text></g>
<g id="d52"><text y="2226">PEDV-SX(KY420075)</text></g>
</g>

<!-- ================= BRACES & GROUP LABELS ================= -->
<g id="braces" class="br">
<path d="M589 2Q598 2 598 17V278.5Q598 293.5 607 293.5Q598 293.5 598 308.5V570Q598 585 589 585"/>
<path d="M589 736Q598 736 598 751V862.5Q598 877.5 607 877.5Q598 877.5 598 892.5V1004Q598 1019 589 1019"/>
<path d="M1343 29Q1352.5 29 1352.5 44V157.5Q1352.5 172.5 1362 172.5Q1352.5 172.5 1352.5 187.5V301Q1352.5 316 1343 316"/>
<path d="M1343 330Q1352.5 330 1352.5 345V421Q1352.5 436 1362 436Q1352.5 436 1352.5 451V527Q1352.5 542 1343 542"/>
<path d="M1343 574Q1352.5 574 1352.5 589V684.5Q1352.5 699.5 1362 699.5Q1352.5 699.5 1352.5 714.5V810Q1352.5 825 1343 825"/>
<path d="M1343 839Q1352.5 839 1352.5 854V901.5Q1352.5 916.5 1362 916.5Q1352.5 916.5 1352.5 931.5V979Q1352.5 994 1343 994"/>
<path d="M563 1213Q572 1213 572 1228V1555Q572 1570 581 1570Q572 1570 572 1585V1912Q572 1927 563 1927"/>
<path d="M563 1990Q572 1990 572 2005V2091Q572 2106 581 2106Q572 2106 572 2121V2207Q572 2222 563 2222"/>
<path d="M1343 1168Q1352.5 1168 1352.5 1186V1286Q1352.5 1301 1362 1301Q1352.5 1301 1352.5 1316V1416Q1352.5 1434 1343 1434"/>
<path d="M1343 1456Q1352.5 1456 1352.5 1474V1575Q1352.5 1590 1362 1590Q1352.5 1590 1352.5 1605V1706Q1352.5 1724 1343 1724"/>
<path d="M1343 1738Q1352.5 1738 1352.5 1753V1817Q1352.5 1832 1362 1832Q1352.5 1832 1352.5 1847V1911Q1352.5 1926 1343 1926"/>
<path d="M1343 1959Q1352.5 1959 1352.5 1977V2080.5Q1352.5 2095.5 1362 2095.5Q1352.5 2095.5 1352.5 2110.5V2214Q1352.5 2232 1343 2232"/>
</g>
<g id="group-labels" class="gl">
<text x="620" y="296">G1</text>
<text x="617" y="879">G2</text>
<text x="1381" y="175">G2a</text>
<text x="1381" y="439">G2b</text>
<text x="1381" y="702">G1b</text>
<text x="1381" y="919">G1a</text>
<text x="596" y="1572">G1</text>
<text x="596" y="2108">G2</text>
<text x="1381" y="1305">G2b</text>
<text x="1381" y="1593">G2a</text>
<text x="1381" y="1834">G1a</text>
<text x="1381" y="2098">G1b</text>
</g>
<g id="panel-letters" class="lt">
<text x="359" y="1083">a</text>
<text x="1146" y="1083">b</text>
<text x="359" y="2295">c</text>
<text x="1146" y="2295">d</text>
</g>
</svg>
